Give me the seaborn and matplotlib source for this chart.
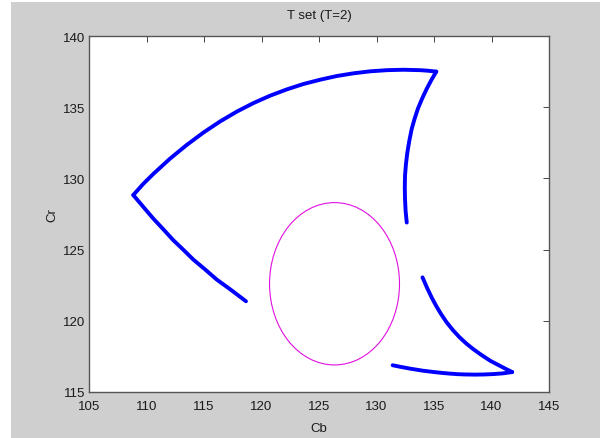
import matplotlib
matplotlib.use("Agg")
import matplotlib.pyplot as plt
from matplotlib.patches import Ellipse, Rectangle
import seaborn as sns
import pandas as pd

# points (Cb, Cr)
top_cb = [108.85, 109.7, 110.6, 112.05, 113.5, 114.95, 116.4, 117.85, 119.3, 120.75, 122.2, 123.65,
          125.1, 126.55, 128.0, 129.45, 130.9, 132.35, 133.8, 134.5, 135.2]
top_cr = [128.83, 129.6, 130.32, 131.39, 132.35, 133.22, 134.0, 134.69, 135.29, 135.81, 136.25, 136.63,
          136.93, 137.19, 137.38, 137.52, 137.6, 137.63, 137.6, 137.56, 137.5]

right_cb = [135.2, 134.76, 134.36, 133.96, 133.6, 133.31, 133.06, 132.85, 132.68, 132.56, 132.48, 132.46,
            132.48, 132.53, 132.63]
right_cr = [137.5, 136.89, 136.28, 135.59, 134.9, 134.18, 133.47, 132.63, 131.8, 131.0, 130.2, 129.37,
            128.55, 127.72, 126.9]

left_cb = [108.85, 109.7, 110.6, 111.47, 112.33, 113.2, 114.07, 115.09, 116.1, 117.38, 118.65]
left_cr = [128.83, 128.02, 127.17, 126.42, 125.66, 124.99, 124.3, 123.61, 122.9, 122.15, 121.37]

low_cb = [134.0, 134.4, 134.8, 135.2, 135.6, 136.1, 136.65, 137.2, 137.8, 138.4, 139.0, 139.5, 139.9,
          140.3, 140.7, 141.3, 141.8]
low_cr = [123.05, 122.31, 121.63, 121.03, 120.49, 119.89, 119.34, 118.86, 118.41, 118.02, 117.67, 117.4,
          117.19, 117.02, 116.85, 116.6, 116.4]

base_cb = [131.4, 132.0, 133.0, 134.0, 134.9, 135.7, 136.4, 137.1, 137.8, 138.6, 139.3, 140.2, 141.0, 141.8]
base_cr = [116.88, 116.78, 116.63, 116.5, 116.41, 116.34, 116.29, 116.25, 116.23, 116.22, 116.23, 116.26,
           116.31, 116.4]

# magenta ellipse: centre and size in data units
ell_center = (126.35, 122.6)
ell_width = 11.3
ell_height = 11.4

curves = {
    "top": (top_cb, top_cr),
    "right": (right_cb, right_cr),
    "left": (left_cb, left_cr),
    "low": (low_cb, low_cr),
    "base": (base_cb, base_cr),
}

frames = []
for name, (cb, cr) in curves.items():
    frames.append(pd.DataFrame({"Cb": cb, "Cr": cr, "curve": name}))
df = pd.concat(frames, ignore_index=True)

sns.set_style("white")
plt.rcParams["font.family"] = ["Liberation Sans Narrow", "Liberation Sans", "DejaVu Sans"]

gray = "#cfcfcf"
fig = plt.figure(figsize=(6.08, 4.39), dpi=100)
fig.patch.set_facecolor("white")
fig.add_artist(Rectangle((11 / 608, 0), 589 / 608, 436 / 439, transform=fig.transFigure,
                         facecolor=gray, edgecolor="none", zorder=-10))

ax = fig.add_axes([89 / 608, 1 - 393 / 439, 460 / 608, 356 / 439])
ax.set_facecolor("white")

for name in curves:
    sns.lineplot(data=df[df["curve"] == name], x="Cb", y="Cr", sort=False, estimator=None,
                 color="#0000ff", linewidth=2.8, ax=ax, solid_capstyle="round",
                 solid_joinstyle="round")

ax.add_patch(Ellipse(ell_center, ell_width, ell_height, fill=False,
                     edgecolor="#e010e0", linewidth=0.8))

ax.set_xlim(105, 145)
ax.set_ylim(115, 140)
ax.set_xticks(range(105, 146, 5))
ax.set_yticks(range(115, 141, 5))
ax.tick_params(direction="in", length=4, width=0.7, colors="#444444", labelcolor="#1a1a1a",
               labelsize=9.5, top=True, right=True)
ax.tick_params(axis="x", pad=6)
ax.tick_params(axis="y", pad=3)
for s in ax.spines.values():
    s.set_color("#555555")
    s.set_linewidth(1.0)

ax.set_title("T set (T=2)", fontsize=9.5, color="#1a1a1a", pad=13)
ax.set_xlabel("Cb", fontsize=9.5, color="#1a1a1a", labelpad=7)
ax.set_ylabel("Cr", fontsize=9.5, color="#1a1a1a", labelpad=3)

fig.savefig("out.png", dpi=100, facecolor=fig.get_facecolor())
